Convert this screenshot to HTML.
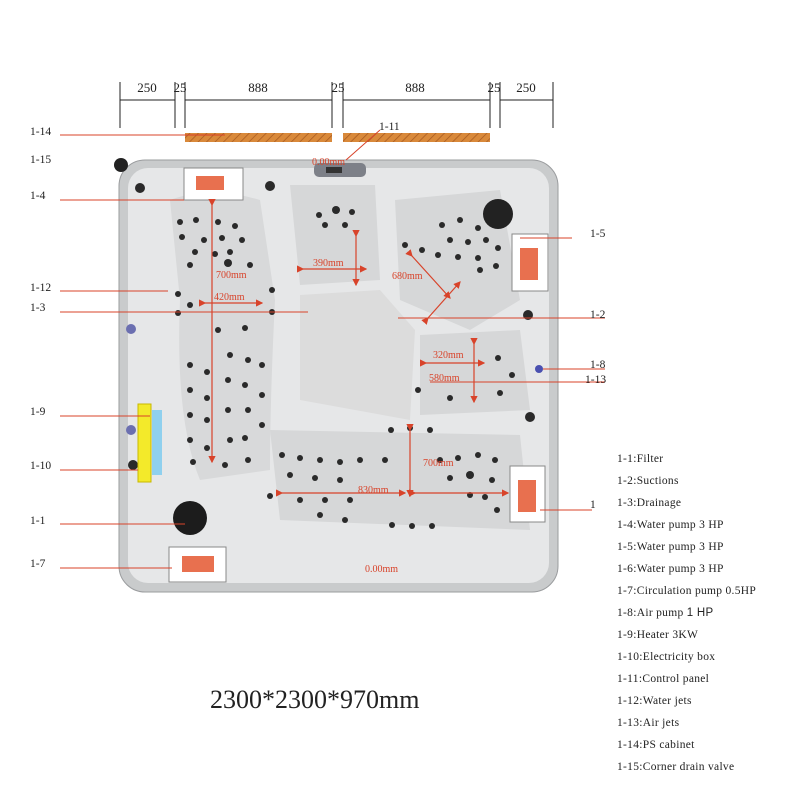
<!DOCTYPE html>
<html><head><meta charset="utf-8"><style>
html,body{margin:0;padding:0;background:#fff}
svg{display:block}
.t{font-family:"Liberation Serif",serif;fill:#222}
.lg{font-family:"Liberation Serif",serif;font-size:11.5px;fill:#222;letter-spacing:0.3px}
.r{font-family:"Liberation Serif",serif;font-size:10px;fill:#d8432a}
</style></head><body>
<svg width="800" height="800" viewBox="0 0 800 800" xmlns="http://www.w3.org/2000/svg">
<defs>
<pattern id="h" width="6" height="6" patternUnits="userSpaceOnUse" patternTransform="rotate(45)">
<rect width="6" height="6" fill="#d9893a"/><line x1="0" y1="0" x2="0" y2="6" stroke="#a85a20" stroke-width="1.5"/></pattern>
<marker id="a" markerWidth="6" markerHeight="6" refX="5" refY="3" orient="auto"><path d="M0,0 L6,3 L0,6 z" fill="#d8432a"/></marker>
</defs>
<!-- dimensions -->
<g stroke="#222" stroke-width="1" fill="none">
<line x1="120" y1="100" x2="175" y2="100"/><line x1="185" y1="100" x2="332" y2="100"/>
<line x1="343" y1="100" x2="490" y2="100"/><line x1="500" y1="100" x2="553" y2="100"/>
<line x1="120" y1="82" x2="120" y2="128"/><line x1="175" y1="82" x2="175" y2="128"/>
<line x1="185" y1="82" x2="185" y2="128"/><line x1="332" y1="82" x2="332" y2="128"/>
<line x1="343" y1="82" x2="343" y2="128"/><line x1="490" y1="82" x2="490" y2="128"/>
<line x1="500" y1="82" x2="500" y2="128"/><line x1="553" y1="82" x2="553" y2="128"/>
</g>
<g class="t" font-size="13" text-anchor="middle">
<text x="147" y="92">250</text><text x="180" y="92">25</text><text x="258" y="92">888</text>
<text x="338" y="92">25</text><text x="415" y="92">888</text><text x="494" y="92">25</text><text x="526" y="92">250</text>
</g>
<rect x="185" y="133" width="147" height="9" fill="url(#h)"/>
<rect x="343" y="133" width="147" height="9" fill="url(#h)"/>
<!-- tub -->
<rect x="119" y="160" width="439" height="432" rx="26" fill="#c9cbcc" stroke="#9a9c9e"/>
<rect x="128" y="168" width="421" height="415" rx="20" fill="#e6e7e8"/>
<path d="M170,200 Q210,185 260,200 L275,300 Q270,400 270,470 L200,480 Q175,420 180,300 Z" fill="#d8d9da"/>
<path d="M290,185 L375,185 L380,280 L300,285 Z" fill="#d6d7d8"/>
<path d="M395,200 L500,190 L520,300 L470,330 L400,300 Z" fill="#d6d7d8"/>
<path d="M300,295 L380,290 L415,330 L410,420 L300,400 Z" fill="#dcdcdc"/>
<path d="M420,335 L520,330 L530,410 L420,415 Z" fill="#d6d7d8"/>
<path d="M270,430 L520,435 L530,530 L280,520 Z" fill="#d6d7d8"/>
<rect x="314" y="163" width="52" height="14" rx="5" fill="#7d8088"/>
<rect x="326" y="167" width="16" height="6" fill="#333"/>
<circle cx="498" cy="214" r="15" fill="#222"/>
<circle cx="190" cy="518" r="17" fill="#1c1c1c"/>
<circle cx="121" cy="165" r="7" fill="#222"/>
<!-- jets -->
<g fill="#2a2a2a">
<circle cx="140" cy="188" r="5"/><circle cx="270" cy="186" r="5"/><circle cx="528" cy="315" r="5"/><circle cx="530" cy="417" r="5"/><circle cx="133" cy="465" r="5"/>
<circle cx="180" cy="222" r="3"/><circle cx="196" cy="220" r="3"/><circle cx="218" cy="222" r="3"/><circle cx="235" cy="226" r="3"/>
<circle cx="182" cy="237" r="3"/><circle cx="204" cy="240" r="3"/><circle cx="222" cy="238" r="3"/><circle cx="242" cy="240" r="3"/>
<circle cx="195" cy="252" r="3"/><circle cx="215" cy="254" r="3"/><circle cx="230" cy="252" r="3"/><circle cx="228" cy="263" r="4"/><circle cx="190" cy="265" r="3"/><circle cx="250" cy="265" r="3"/>
<circle cx="319" cy="215" r="3"/><circle cx="336" cy="210" r="4"/><circle cx="352" cy="212" r="3"/><circle cx="325" cy="225" r="3"/><circle cx="345" cy="225" r="3"/>
<circle cx="442" cy="225" r="3"/><circle cx="460" cy="220" r="3"/><circle cx="478" cy="228" r="3"/><circle cx="450" cy="240" r="3"/><circle cx="468" cy="242" r="3"/><circle cx="486" cy="240" r="3"/><circle cx="438" cy="255" r="3"/><circle cx="458" cy="257" r="3"/><circle cx="478" cy="258" r="3"/><circle cx="498" cy="248" r="3"/><circle cx="480" cy="270" r="3"/><circle cx="496" cy="266" r="3"/><circle cx="422" cy="250" r="3"/><circle cx="405" cy="245" r="3"/>
<circle cx="178" cy="294" r="3"/><circle cx="178" cy="313" r="3"/><circle cx="190" cy="305" r="3"/><circle cx="272" cy="290" r="3"/><circle cx="272" cy="312" r="3"/>
<circle cx="218" cy="330" r="3"/><circle cx="245" cy="328" r="3"/><circle cx="190" cy="365" r="3"/><circle cx="190" cy="390" r="3"/><circle cx="190" cy="415" r="3"/><circle cx="190" cy="440" r="3"/><circle cx="193" cy="462" r="3"/>
<circle cx="207" cy="372" r="3"/><circle cx="207" cy="398" r="3"/><circle cx="207" cy="420" r="3"/><circle cx="207" cy="448" r="3"/>
<circle cx="230" cy="355" r="3"/><circle cx="228" cy="380" r="3"/><circle cx="228" cy="410" r="3"/><circle cx="230" cy="440" r="3"/><circle cx="225" cy="465" r="3"/>
<circle cx="248" cy="360" r="3"/><circle cx="245" cy="385" r="3"/><circle cx="248" cy="410" r="3"/><circle cx="245" cy="438" r="3"/><circle cx="248" cy="460" r="3"/>
<circle cx="262" cy="365" r="3"/><circle cx="262" cy="395" r="3"/><circle cx="262" cy="425" r="3"/>
<circle cx="418" cy="390" r="3"/><circle cx="450" cy="398" r="3"/><circle cx="498" cy="358" r="3"/><circle cx="512" cy="375" r="3"/><circle cx="500" cy="393" r="3"/>
<circle cx="391" cy="430" r="3"/><circle cx="410" cy="428" r="3"/><circle cx="430" cy="430" r="3"/>
<circle cx="282" cy="455" r="3"/><circle cx="300" cy="458" r="3"/><circle cx="320" cy="460" r="3"/><circle cx="340" cy="462" r="3"/><circle cx="360" cy="460" r="3"/><circle cx="385" cy="460" r="3"/>
<circle cx="290" cy="475" r="3"/><circle cx="315" cy="478" r="3"/><circle cx="340" cy="480" r="3"/><circle cx="270" cy="496" r="3"/><circle cx="300" cy="500" r="3"/><circle cx="325" cy="500" r="3"/><circle cx="350" cy="500" r="3"/>
<circle cx="320" cy="515" r="3"/><circle cx="345" cy="520" r="3"/><circle cx="392" cy="525" r="3"/><circle cx="412" cy="526" r="3"/><circle cx="432" cy="526" r="3"/>
<circle cx="440" cy="460" r="3"/><circle cx="458" cy="458" r="3"/><circle cx="478" cy="455" r="3"/><circle cx="495" cy="460" r="3"/><circle cx="470" cy="475" r="4"/><circle cx="450" cy="478" r="3"/><circle cx="492" cy="480" r="3"/><circle cx="470" cy="495" r="3"/><circle cx="485" cy="497" r="3"/><circle cx="497" cy="510" r="3"/>
</g>
<circle cx="131" cy="329" r="5" fill="#6b6fb0"/><circle cx="131" cy="430" r="5" fill="#6b6fb0"/><circle cx="539" cy="369" r="4" fill="#4a50b0"/>
<rect x="138" y="404" width="13" height="78" fill="#f3ea2a" stroke="#c8b800"/>
<rect x="152" y="410" width="10" height="65" fill="#8fd0ee"/>
<!-- pump boxes -->
<g fill="#fff" stroke="#888">
<rect x="184" y="168" width="59" height="32"/><rect x="512" y="234" width="36" height="57"/>
<rect x="510" y="466" width="35" height="56"/><rect x="169" y="547" width="57" height="35"/>
</g>
<g fill="#e8704f"><rect x="196" y="176" width="28" height="14"/><rect x="520" y="248" width="18" height="32"/><rect x="518" y="480" width="18" height="32"/><rect x="182" y="556" width="32" height="16"/></g>
<!-- red dimension lines -->
<g stroke="#d8432a" stroke-width="1.2" marker-end="url(#a)" marker-start="url(#a)">
<line x1="212" y1="205" x2="212" y2="462"/><line x1="205" y1="303" x2="262" y2="303"/>
<line x1="303" y1="269" x2="366" y2="269"/><line x1="356" y1="236" x2="356" y2="285"/>
<line x1="412" y1="256" x2="450" y2="298"/><line x1="428" y1="318" x2="460" y2="282"/>
<line x1="426" y1="363" x2="484" y2="363"/><line x1="474" y1="344" x2="474" y2="402"/>
<line x1="410" y1="430" x2="410" y2="496"/><line x1="282" y1="493" x2="405" y2="493"/><line x1="415" y1="493" x2="508" y2="493"/>
</g>
<g class="r"><text x="216" y="278">700mm</text><text x="214" y="300">420mm</text><text x="313" y="266">390mm</text><text x="392" y="279">680mm</text><text x="433" y="358">320mm</text><text x="429" y="381">580mm</text><text x="358" y="493">830mm</text><text x="423" y="466">700mm</text><text x="312" y="165">0.00mm</text><text x="365" y="572">0.00mm</text></g>
<!-- callout lines -->
<g stroke="#d8432a" stroke-width="1" fill="none">
<line x1="60" y1="135" x2="225" y2="135"/><line x1="60" y1="200" x2="184" y2="200"/>
<line x1="60" y1="291" x2="168" y2="291"/><line x1="60" y1="312" x2="308" y2="312"/>
<line x1="60" y1="416" x2="150" y2="416"/><line x1="60" y1="470" x2="138" y2="470"/>
<line x1="60" y1="524" x2="185" y2="524"/><line x1="60" y1="568" x2="172" y2="568"/>
<line x1="572" y1="238" x2="520" y2="238"/><line x1="605" y1="318" x2="398" y2="318"/>
<line x1="605" y1="369" x2="543" y2="369"/><line x1="605" y1="382" x2="430" y2="382"/>
<line x1="592" y1="510" x2="540" y2="510"/><line x1="380" y1="130" x2="346" y2="160"/>
</g>
<g class="t" font-size="11.5">
<text x="30" y="135">1-14</text><text x="30" y="163">1-15</text><text x="30" y="199">1-4</text>
<text x="30" y="291">1-12</text><text x="30" y="311">1-3</text><text x="30" y="415">1-9</text>
<text x="30" y="469">1-10</text><text x="30" y="524">1-1</text><text x="30" y="567">1-7</text>
<text x="379" y="130">1-11</text><text x="590" y="237">1-5</text><text x="590" y="318">1-2</text>
<text x="590" y="368">1-8</text><text x="585" y="383">1-13</text><text x="590" y="508">1</text>
</g>
<g class="lg">
<text x="617" y="462">1-1:Filter</text><text x="617" y="484">1-2:Suctions</text><text x="617" y="506">1-3:Drainage</text>
<text x="617" y="528">1-4:Water pump  3 HP</text><text x="617" y="550">1-5:Water pump  3 HP</text><text x="617" y="572">1-6:Water pump  3 HP</text>
<text x="617" y="594">1-7:Circulation pump 0.5HP</text><text x="617" y="616">1-8:Air pump <tspan font-family="Liberation Sans">1 HP</tspan></text>
<text x="617" y="638">1-9:Heater 3KW</text><text x="617" y="660">1-10:Electricity box</text><text x="617" y="682">1-11:Control panel</text>
<text x="617" y="704">1-12:Water jets</text><text x="617" y="726">1-13:Air jets</text><text x="617" y="748">1-14:PS cabinet</text><text x="617" y="770">1-15:Corner drain valve</text>
</g>
<text x="210" y="708" class="t" font-size="26">2300*2300*970mm</text>
</svg>
</body></html>
